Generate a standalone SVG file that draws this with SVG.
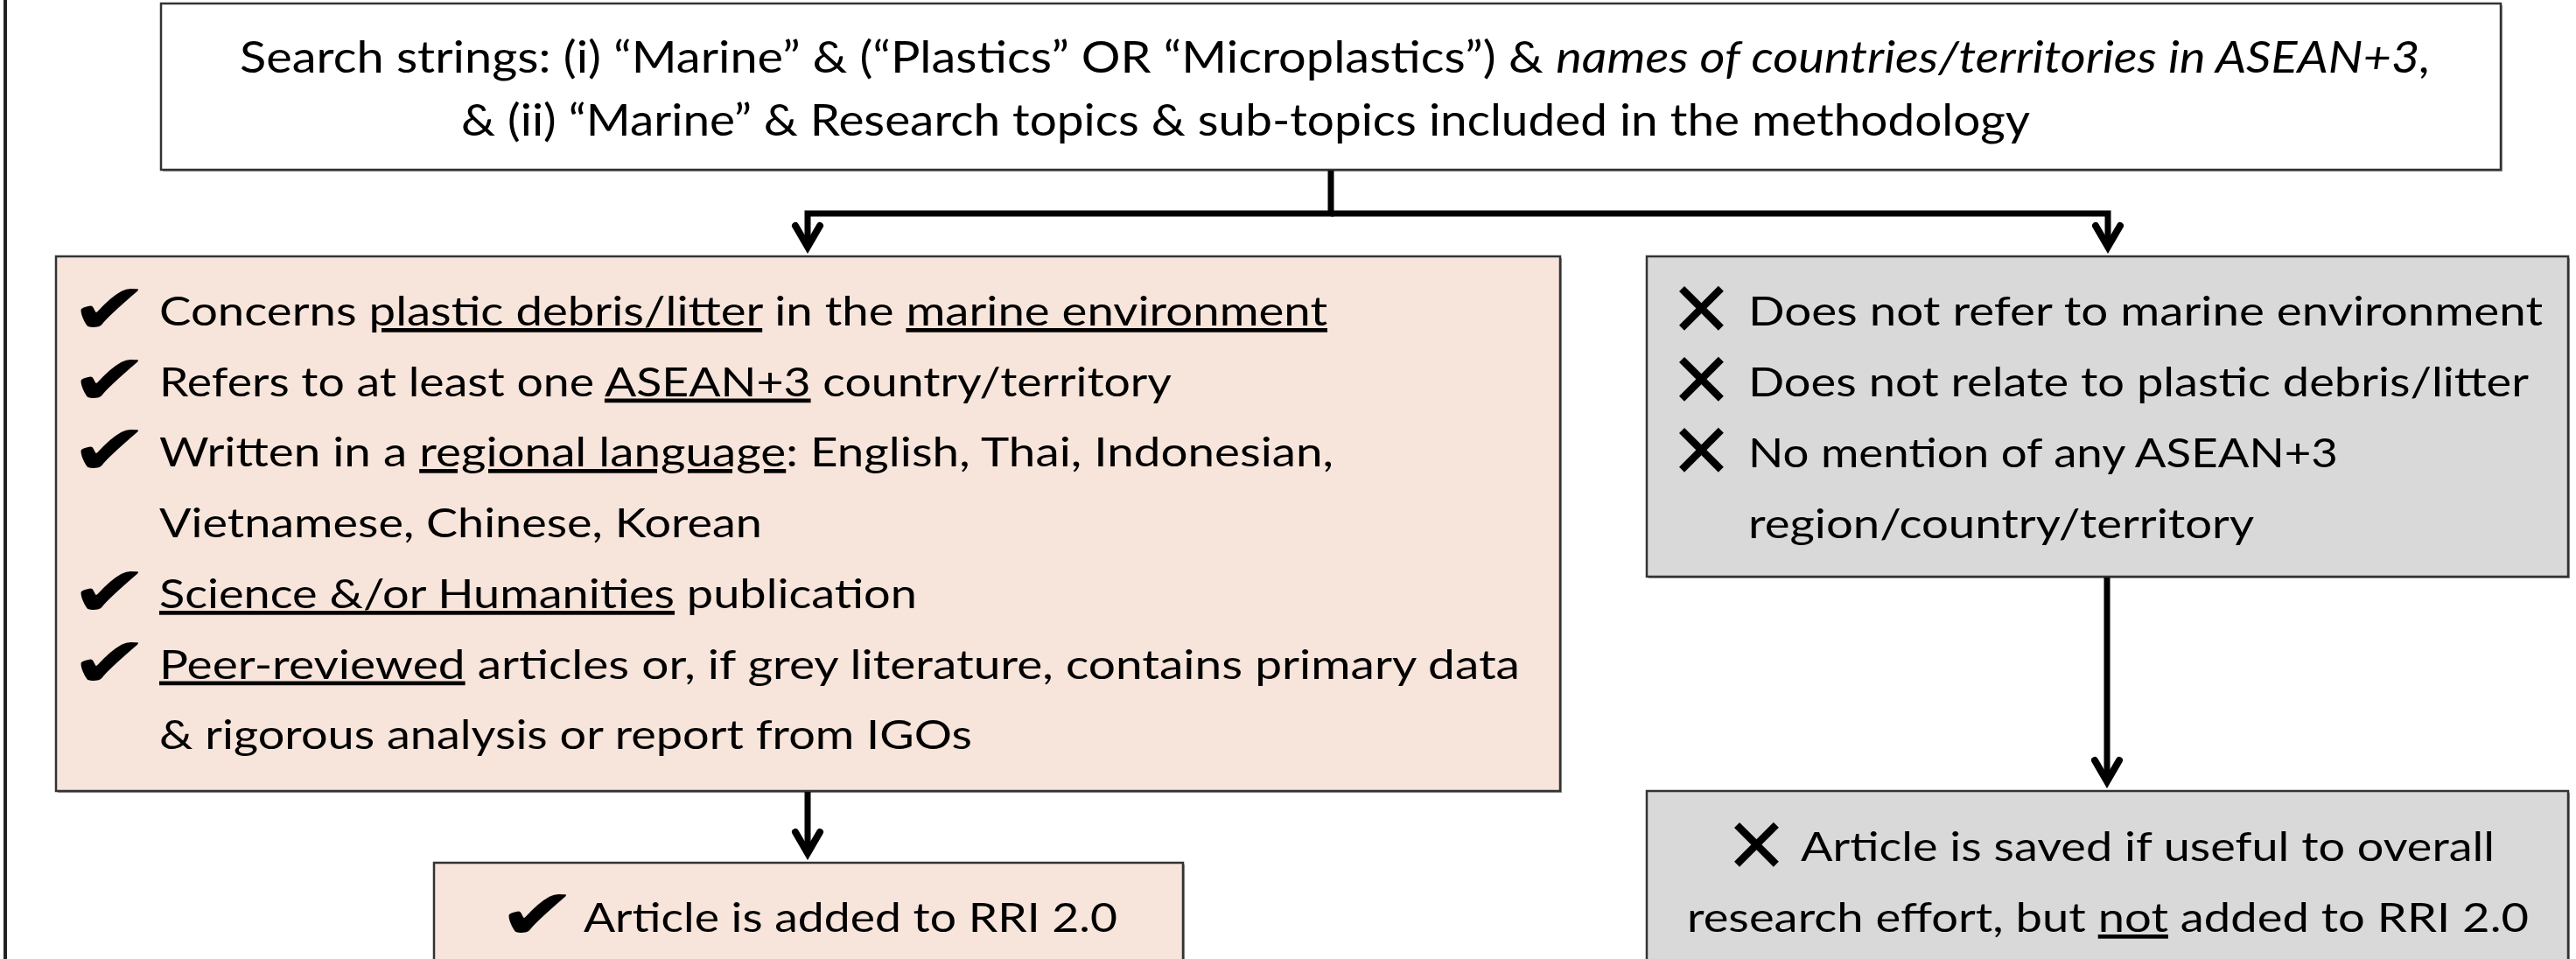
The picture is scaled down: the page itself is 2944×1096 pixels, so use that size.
<svg xmlns="http://www.w3.org/2000/svg" width="2944" height="1096" viewBox="0 0 2944 1096">
<style>
.t{font-family:Lato,"Liberation Sans",sans-serif;font-size:47px;fill:#000}
.tt{font-family:Lato,"Liberation Sans",sans-serif;font-size:50px;fill:#000}
.i{font-style:italic}
.u{text-decoration:underline}
.sym{font-family:"DejaVu Sans",sans-serif;font-size:60px;fill:#000}
.box{stroke:#333;stroke-width:2.5}
.shadow{fill:#9a9a9a}
.pink{fill:#F7E4DA}
.grey{fill:#D9D9D9}
.white{fill:#fff}
.conn{fill:none;stroke:#000;stroke-width:7;stroke-linejoin:miter}
</style>
<defs>
<marker id="arr" markerUnits="userSpaceOnUse" orient="auto" refX="0" refY="0" markerWidth="60" markerHeight="60" viewBox="-40 -30 60 60" overflow="visible">
<path d="M-24,-14 L0,0 L-24,14" fill="none" stroke="#000" stroke-width="8" stroke-linecap="round" stroke-linejoin="miter"/>
</marker>
</defs>
<rect width="2944" height="1096" fill="#fff"/>
<line x1="6" y1="0" x2="6" y2="1096" stroke="#222" stroke-width="4"/>

<g id="search-box">
<rect class="shadow" x="186" y="6" width="2674" height="190"/>
<rect class="box white" x="184" y="4" width="2674" height="190"/>
<text class="tt" x="274" y="83" textLength="2504" lengthAdjust="spacingAndGlyphs">Search strings: (i) “Marine” &amp; (“Plastics” OR “Microplastics”) &amp; <tspan class="i">names of countries/territories in ASEAN+3,</tspan></text>
<text class="tt" x="527" y="155" textLength="1793" lengthAdjust="spacingAndGlyphs">&amp; (ii) “Marine” &amp; Research topics &amp; sub-topics included in the methodology</text>
</g>

<g id="include-box">
<rect class="shadow" x="66" y="295" width="1719" height="611"/>
<rect class="box pink" x="64" y="293" width="1719" height="611"/>
<text class="sym" transform="translate(80,381) scale(1.8,1.35)">✔</text>
<text class="t" x="182" y="372" textLength="1335" lengthAdjust="spacingAndGlyphs">Concerns <tspan class="u">plastic debris/litter</tspan> in the <tspan class="u">marine environment</tspan></text>
<text class="sym" transform="translate(80,461.5) scale(1.8,1.35)">✔</text>
<text class="t" x="182" y="452.5" textLength="1157" lengthAdjust="spacingAndGlyphs">Refers to at least one <tspan class="u">ASEAN+3</tspan> country/territory</text>
<text class="sym" transform="translate(80,542) scale(1.8,1.35)">✔</text>
<text class="t" x="182" y="533" textLength="1342" lengthAdjust="spacingAndGlyphs">Written in a <tspan class="u">regional language</tspan>: English, Thai, Indonesian,</text>
<text class="t" x="182" y="614" textLength="689" lengthAdjust="spacingAndGlyphs">Vietnamese, Chinese, Korean</text>
<text class="sym" transform="translate(80,704) scale(1.8,1.35)">✔</text>
<text class="t" x="182" y="695" textLength="866" lengthAdjust="spacingAndGlyphs"><tspan class="u">Science &amp;/or Humanities</tspan> publication</text>
<text class="sym" transform="translate(80,784.5) scale(1.8,1.35)">✔</text>
<text class="t" x="182" y="775.5" textLength="1555" lengthAdjust="spacingAndGlyphs"><tspan class="u">Peer-reviewed</tspan> articles or, if grey literature, contains primary data</text>
<text class="t" x="182" y="856" textLength="929" lengthAdjust="spacingAndGlyphs">&amp; rigorous analysis or report from IGOs</text>
</g>

<g id="exclude-box">
<rect class="shadow" x="1884" y="295" width="1053" height="366"/>
<rect class="box grey" x="1882" y="293" width="1053" height="366"/>
<text class="sym" transform="translate(1908,384) scale(1.45)">✕</text>
<text class="t" x="1998" y="372" textLength="908" lengthAdjust="spacingAndGlyphs">Does not refer to marine environment</text>
<text class="sym" transform="translate(1908,465) scale(1.45)">✕</text>
<text class="t" x="1998" y="453" textLength="892" lengthAdjust="spacingAndGlyphs">Does not relate to plastic debris/litter</text>
<text class="sym" transform="translate(1908,546) scale(1.45)">✕</text>
<text class="t" x="1998" y="534" textLength="674" lengthAdjust="spacingAndGlyphs">No mention of any ASEAN+3</text>
<text class="t" x="1998" y="615" textLength="578" lengthAdjust="spacingAndGlyphs">region/country/territory</text>
</g>

<g id="added-box">
<rect class="shadow" x="498" y="988" width="856" height="130"/>
<rect class="box pink" x="496" y="986" width="856" height="130"/>
<text class="sym" transform="translate(569,1073) scale(1.8,1.35)">✔</text>
<text class="t" x="667" y="1065" textLength="610" lengthAdjust="spacingAndGlyphs">Article is added to RRI 2.0</text>
</g>

<g id="saved-box">
<rect class="shadow" x="1884" y="906" width="1053" height="210"/>
<rect class="box grey" x="1882" y="904" width="1053" height="210"/>
<text class="sym" transform="translate(1971,997) scale(1.45)">✕</text>
<text class="t" x="2058" y="984" textLength="793" lengthAdjust="spacingAndGlyphs">Article is saved if useful to overall</text>
<text class="t" x="1928" y="1065" textLength="962" lengthAdjust="spacingAndGlyphs">research effort, but <tspan class="u">not</tspan> added to RRI 2.0</text>
</g>

<g id="connectors">
<path class="conn" d="M1521,195 V244 H923 V282" marker-end="url(#arr)"/>
<path class="conn" d="M1521,244 H2409 V282" marker-end="url(#arr)"/>
<path class="conn" d="M923,905 V975" marker-end="url(#arr)"/>
<path class="conn" d="M2408,660 V893" marker-end="url(#arr)"/>
</g>
</svg>
